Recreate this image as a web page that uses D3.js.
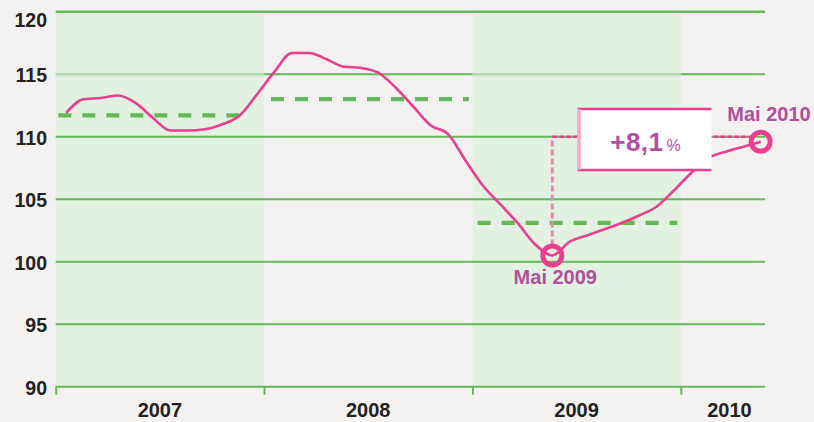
<!DOCTYPE html>
<html><head><meta charset="utf-8">
<script src="https://cdn.jsdelivr.net/npm/d3@7"></script>
<style>
html,body{margin:0;padding:0;background:#f3f2f0;}
svg{display:block;font-family:"Liberation Sans",Arial,sans-serif;}
</style></head>
<body><svg id="c" width="814" height="422"></svg>
<script>
// ---- data ----
const years = [2007, 2008, 2009, 2010];
const yearLabelMonth = [6, 18, 30, 38.8];
const shadedYears = [2007, 2009];
const yTicks = [90, 95, 100, 105, 110, 115, 120];
// monthly index values, Jan 2007 .. May 2010
const values = [111.9, 113.0, 113.1, 113.3, 112.7, 111.5, 110.5, 110.5, 110.6, 111.0, 111.7, 113.4,
                115.2, 116.7, 116.7, 116.2, 115.6, 115.5, 115.1, 113.9, 112.4, 110.9, 110.2, 108.1,
                106.1, 104.6, 103.1, 101.4, 100.5, 101.6, 102.1, 102.6, 103.1, 103.7, 104.4, 105.7,
                107.1, 108.3, 108.8, 109.2, 109.6];
const annualAvg = [111.7, 113.0, 103.1];
const avgStartMonth = [0.15, 12.4, 24.3];
const avgEndMonth = [10.9, 23.8, 35.8];
const lowIdx = 28, highIdx = 40;
const lowLabel = "Mai 2009", highLabel = "Mai 2010";
const changeMain = "+8,1", changeUnit = "%";
const refLevel = 110;

// ---- setup ----
const svg = d3.select("#c");
const x = d3.scaleLinear().domain([0, 40.85]).range([55.7, 765]);
const y = d3.scaleLinear().domain([90, 120]).range([386.7, 11.7]);
const mx = i => x(i + 0.6);
const GREEN = "#62b956", BAND = "#e3f1e3", PINK = "#ec3e8e", PURPLE = "#b14f9f";

// bands
svg.selectAll("rect.band").data(shadedYears).join("rect")
  .attr("x", d => x((d - 2007) * 12)).attr("width", d => x((d - 2007) * 12 + 12) - x((d - 2007) * 12))
  .attr("y", y(120) + 2).attr("height", y(90) - y(120) - 2).attr("fill", BAND);

// gridlines
svg.selectAll("line.grid").data(yTicks).join("line")
  .attr("x1", x(0)).attr("x2", x(40.85)).attr("y1", d => y(d)).attr("y2", d => y(d))
  .attr("stroke", GREEN).attr("stroke-width", d => d === 120 ? 2.5 : 2);
// lighter 115 line inside bands
svg.selectAll("line.g115").data(shadedYears).join("line")
  .attr("x1", d => x((d - 2007) * 12)).attr("x2", d => x((d - 2007) * 12 + 12))
  .attr("y1", y(115)).attr("y2", y(115)).attr("stroke", BAND).attr("stroke-opacity", 0.65).attr("stroke-width", 2);

// x axis ticks
const xAxis = d3.axisBottom(x).tickValues([0, 12, 24, 36]).tickSize(8).tickFormat("");
const gx = svg.append("g").attr("transform", `translate(0,${y(90)})`).call(xAxis);
gx.select(".domain").remove();
gx.selectAll(".tick line").attr("stroke", GREEN).attr("stroke-width", 2);
svg.selectAll("text.year").data(years).join("text")
  .attr("x", (d, i) => x(yearLabelMonth[i])).attr("y", 417)
  .attr("text-anchor", "middle").attr("font-weight", "bold").attr("font-size", 20).attr("fill", "#222")
  .text(d => d);

// y labels
const yAxis = d3.axisLeft(y).tickValues(yTicks).tickSize(0).tickPadding(0);
const gy = svg.append("g").attr("transform", "translate(47,0)").call(yAxis);
gy.select(".domain").remove();
gy.selectAll(".tick text").attr("font-family", "Liberation Sans, Arial, sans-serif")
  .attr("font-weight", "bold").attr("font-size", 19.5).attr("fill", "#222")
  .attr("dy", d => d === 120 ? "14.3px" : "7.6px");

// annual averages
svg.selectAll("line.avg").data(annualAvg).join("line")
  .attr("x1", (d, i) => x(avgStartMonth[i])).attr("x2", (d, i) => x(avgEndMonth[i]))
  .attr("y1", d => y(d)).attr("y2", d => y(d))
  .attr("stroke", GREEN).attr("stroke-width", 4.3).attr("stroke-dasharray", "13,11");

// main line
const line = d3.line().x((d, i) => mx(i)).y(d => y(d)).curve(d3.curveMonotoneX);
svg.append("path").datum(values).attr("d", line)
  .attr("fill", "none").attr("stroke", PINK).attr("stroke-width", 2.6).attr("stroke-linejoin", "round");

// annotation dashed guides
svg.append("line").attr("x1", mx(lowIdx)).attr("x2", mx(lowIdx))
  .attr("y1", y(values[lowIdx]) - 10).attr("y2", y(refLevel))
  .attr("stroke", "#ef86b6").attr("stroke-width", 3).attr("stroke-dasharray", "6,3");
svg.append("line").attr("x1", mx(lowIdx)).attr("x2", mx(highIdx) - 10)
  .attr("y1", y(refLevel)).attr("y2", y(refLevel))
  .attr("stroke", PINK).attr("stroke-width", 2.5).attr("stroke-dasharray", "5,2");

// box
const bx0 = 577.5, by0 = 109, bw = 134, bh = 61;
svg.append("rect").attr("x", bx0).attr("y", by0).attr("width", bw).attr("height", bh).attr("fill", "#fff");
svg.append("line").attr("x1", bx0).attr("x2", bx0 + bw).attr("y1", by0).attr("y2", by0).attr("stroke", PINK).attr("stroke-width", 2.5);
svg.append("line").attr("x1", bx0).attr("x2", bx0 + bw).attr("y1", by0 + bh).attr("y2", by0 + bh).attr("stroke", PINK).attr("stroke-width", 2.5);
svg.append("line").attr("x1", bx0 + 1.5).attr("x2", bx0 + 1.5).attr("y1", by0).attr("y2", by0 + bh).attr("stroke", "#f3a6ca").attr("stroke-width", 3.5);
const t = svg.append("text").attr("x", bx0 + bw / 2 + 1).attr("y", 150.7).attr("text-anchor", "middle").attr("fill", PURPLE);
t.append("tspan").attr("font-weight", "bold").attr("font-size", 26).attr("letter-spacing", 0.5).text(changeMain);
t.append("tspan").attr("font-size", 16).attr("dx", 3).text(changeUnit);

// circles
[lowIdx, highIdx].forEach(i => {
  svg.append("circle").attr("cx", mx(i)).attr("cy", y(values[i])).attr("r", 9.5)
    .attr("fill", "none").attr("stroke", PINK).attr("stroke-width", 5);
});
svg.append("text").attr("x", mx(lowIdx) + 3).attr("y", 284.3).attr("text-anchor", "middle")
  .attr("font-weight", "bold").attr("font-size", 20).attr("fill", PURPLE).text(lowLabel);
svg.append("text").attr("x", 769).attr("y", 121).attr("text-anchor", "middle")
  .attr("font-weight", "bold").attr("font-size", 20).attr("fill", PURPLE).text(highLabel);
</script></body></html>
